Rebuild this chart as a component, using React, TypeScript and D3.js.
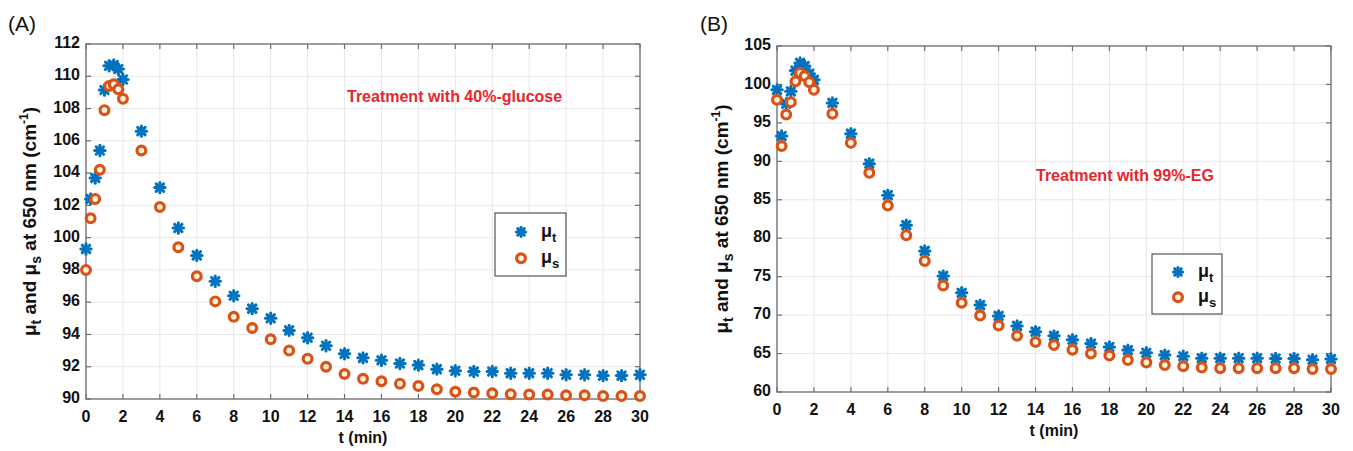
import React from 'react';
import * as d3 from 'd3';

// time points (min)
const times = [0, 0.25, 0.5, 0.75, 1, 1.25, 1.5, 1.75, 2, 3, 4, 5, 6, 7, 8, 9, 10, 11, 12, 13, 14, 15, 16, 17, 18, 19, 20, 21, 22, 23, 24, 25, 26, 27, 28, 29, 30];

// panel A: 40%-glucose
const glucoseMuT = [99.3, 102.4, 103.7, 105.4, 109.15, 110.65, 110.7, 110.45, 109.8, 106.6, 103.1, 100.6, 98.9, 97.3, 96.4, 95.6, 95.0, 94.25, 93.8, 93.3, 92.8, 92.55, 92.4, 92.2, 92.1, 91.85, 91.75, 91.7, 91.7, 91.6, 91.6, 91.6, 91.5, 91.5, 91.45, 91.45, 91.5];
const glucoseMuS = [98.0, 101.2, 102.4, 104.2, 107.9, 109.4, 109.5, 109.2, 108.6, 105.4, 101.9, 99.4, 97.6, 96.05, 95.1, 94.4, 93.7, 93.0, 92.5, 92.0, 91.55, 91.25, 91.1, 90.95, 90.8, 90.6, 90.45, 90.4, 90.35, 90.3, 90.28, 90.28, 90.23, 90.23, 90.18, 90.18, 90.18];

// panel B: 99%-EG
const egMuT = [99.3, 93.3, 97.5, 99.1, 101.8, 102.8, 102.4, 101.4, 100.6, 97.6, 93.6, 89.7, 85.6, 81.7, 78.35, 75.1, 72.9, 71.3, 69.9, 68.6, 67.85, 67.3, 66.8, 66.3, 65.85, 65.45, 65.1, 64.8, 64.65, 64.4, 64.4, 64.4, 64.4, 64.35, 64.35, 64.2, 64.3];
const egMuS = [98.0, 92.0, 96.1, 97.7, 100.4, 101.5, 101.1, 100.3, 99.3, 96.2, 92.4, 88.5, 84.25, 80.4, 77.05, 73.85, 71.6, 69.95, 68.65, 67.3, 66.5, 66.1, 65.5, 65.0, 64.75, 64.15, 63.85, 63.5, 63.35, 63.2, 63.1, 63.1, 63.1, 63.1, 63.1, 63.0, 63.0];

const xTicks = [0, 2, 4, 6, 8, 10, 12, 14, 16, 18, 20, 22, 24, 26, 28, 30];
const yTicksA = [90, 92, 94, 96, 98, 100, 102, 104, 106, 108, 110, 112];
const yTicksB = [60, 65, 70, 75, 80, 85, 90, 95, 100, 105];

const BLUE = '#0072BD';
const ORANGE = '#D95319';
const FONT = '"Liberation Sans", Arial, sans-serif';

const Star = ({ x, y, r = 5.2 }: { x: number; y: number; r?: number }) => (
  <g stroke={BLUE} strokeWidth={3} strokeLinecap="round">
    <line x1={x - r} y1={y} x2={x + r} y2={y} />
    <line x1={x} y1={y - r} x2={x} y2={y + r} />
    <line x1={x - r * 0.72} y1={y - r * 0.72} x2={x + r * 0.72} y2={y + r * 0.72} />
    <line x1={x - r * 0.72} y1={y + r * 0.72} x2={x + r * 0.72} y2={y - r * 0.72} />
  </g>
);

const Ring = ({ x, y }: { x: number; y: number }) => (
  <circle cx={x} cy={y} r={4.4} fill="#fff1dc" stroke={ORANGE} strokeWidth={3.2} />
);

type PanelProps = {
  label: string;
  labelX: number;
  left: number;
  right: number;
  top: number;
  bottom: number;
  yDomain: [number, number];
  yTicks: number[];
  muT: number[];
  muS: number[];
  note: string;
  noteX: number;
  noteY: number;
  legend: { x: number; y: number; w: number; h: number };
  yTitleX: number;
};

const Panel = (p: PanelProps) => {
  const x = d3.scaleLinear().domain([0, 30]).range([p.left, p.right]);
  const y = d3.scaleLinear().domain(p.yDomain).range([p.bottom, p.top]);
  const tk = 5;
  const midY = (p.top + p.bottom) / 2;
  return (
    <g fontFamily={FONT}>
      <text x={p.labelX} y={31} fontSize={21} fill="#111">{p.label}</text>
      <rect x={p.left} y={p.top} width={p.right - p.left} height={p.bottom - p.top} fill="#fff" />
      {xTicks.map(t => (
        <line key={'gx' + t} x1={x(t)} x2={x(t)} y1={p.top} y2={p.bottom} stroke="#e8e8e8" />
      ))}
      {p.yTicks.map(t => (
        <line key={'gy' + t} x1={p.left} x2={p.right} y1={y(t)} y2={y(t)} stroke="#e8e8e8" />
      ))}
      <rect x={p.left} y={p.top} width={p.right - p.left} height={p.bottom - p.top} fill="none" stroke="#6e6e6e" strokeWidth={1.3} />
      {xTicks.map(t => (
        <g key={'tx' + t} stroke="#6e6e6e" strokeWidth={1.2}>
          <line x1={x(t)} x2={x(t)} y1={p.bottom} y2={p.bottom - tk} />
          <line x1={x(t)} x2={x(t)} y1={p.top} y2={p.top + tk} />
        </g>
      ))}
      {p.yTicks.map(t => (
        <g key={'ty' + t} stroke="#6e6e6e" strokeWidth={1.2}>
          <line x1={p.left} x2={p.left + tk} y1={y(t)} y2={y(t)} />
          <line x1={p.right} x2={p.right - tk} y1={y(t)} y2={y(t)} />
        </g>
      ))}
      {xTicks.map(t => (
        <text key={'lx' + t} x={x(t)} y={p.bottom + 19} textAnchor="middle" dominantBaseline="middle" fontSize={16} fontWeight="bold" fill="#111">{t}</text>
      ))}
      {p.yTicks.map(t => (
        <text key={'ly' + t} x={p.left - 6} y={y(t)} textAnchor="end" dominantBaseline="middle" fontSize={16} fontWeight="bold" fill="#111">{t}</text>
      ))}
      <text x={(p.left + p.right) / 2} y={p.bottom + 40} textAnchor="middle" dominantBaseline="middle" fontSize={16} fontWeight="bold" fill="#111">t (min)</text>
      <text transform={`translate(${p.yTitleX},${midY}) rotate(-90)`} textAnchor="middle" fontSize={19} fontWeight="bold" fill="#111">
        μ<tspan fontSize={14} dy={5}>t</tspan>
        <tspan dy={-5}> and μ</tspan>
        <tspan fontSize={14} dy={5}>s</tspan>
        <tspan dy={-5}> at 650 nm (cm</tspan>
        <tspan fontSize={12} dy={-8}>-1</tspan>
        <tspan dy={8}>)</tspan>
      </text>
      <text x={p.noteX} y={p.noteY} fontSize={16} fontWeight="bold" fill="#e8262b">{p.note}</text>
      {times.map((t, i) => <Star key={'t' + i} x={x(t)} y={y(p.muT[i])} />)}
      {times.map((t, i) => <Ring key={'s' + i} x={x(t)} y={y(p.muS[i])} />)}
      <rect x={p.legend.x} y={p.legend.y} width={p.legend.w} height={p.legend.h} fill="#fff" stroke="#333" strokeWidth={1} />
      <Star x={p.legend.x + 26} y={p.legend.y + p.legend.h * 0.3} r={4.6} />
      <Ring x={p.legend.x + 26} y={p.legend.y + p.legend.h * 0.72} />
      <text x={p.legend.x + 46} y={p.legend.y + p.legend.h * 0.3 + 5} fontSize={18} fontWeight="bold" fill="#111">
        μ<tspan fontSize={13} dy={5}>t</tspan>
      </text>
      <text x={p.legend.x + 46} y={p.legend.y + p.legend.h * 0.72 + 5} fontSize={18} fontWeight="bold" fill="#111">
        μ<tspan fontSize={13} dy={5}>s</tspan>
      </text>
    </g>
  );
};

export default function App() {
  return (
    <svg width={1353} height={451} style={{ position: 'absolute', left: 0, top: 0, background: '#fff' }}>
      <Panel
        label="(A)" labelX={8}
        left={86} right={640} top={44} bottom={399}
        yDomain={[90, 112]} yTicks={yTicksA}
        muT={glucoseMuT} muS={glucoseMuS}
        note="Treatment with 40%-glucose" noteX={347} noteY={102}
        legend={{ x: 495, y: 213, w: 71, h: 63 }}
        yTitleX={36}
      />
      <Panel
        label="(B)" labelX={700}
        left={777} right={1331} top={46} bottom={392}
        yDomain={[60, 105]} yTicks={yTicksB}
        muT={egMuT} muS={egMuS}
        note="Treatment with 99%-EG" noteX={1036} noteY={181}
        legend={{ x: 1152, y: 254, w: 70, h: 60 }}
        yTitleX={728}
      />
    </svg>
  );
}
